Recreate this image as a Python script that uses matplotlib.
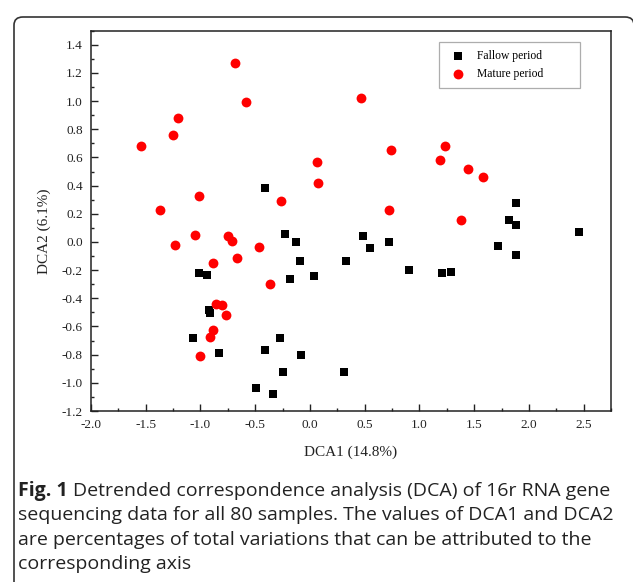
import numpy as np
import matplotlib
matplotlib.use('Agg')
import matplotlib.pyplot as plt
from matplotlib.patches import FancyBboxPatch
from matplotlib.ticker import MultipleLocator

# DCA scores
fallow_x = [-0.408, 1.878, 1.817, 1.884, 2.457, -0.231, -0.125, -0.094, 0.332, -1.011,
            -0.941, -0.180, 0.037, -0.920, -0.913, -1.066, -0.271, -0.834, -0.408, -0.079,
            -0.247, 0.313, -0.493, -0.341, 0.487, 0.548, 0.719, 0.907, 1.208, 1.288,
            1.717, 1.884]
fallow_y = [0.384, 0.279, 0.157, 0.119, 0.074, 0.057, 0.003, -0.137, -0.137, -0.219,
            -0.236, -0.264, -0.245, -0.484, -0.505, -0.680, -0.680, -0.789, -0.765, -0.803,
            -0.926, -0.924, -1.037, -1.077, 0.045, -0.045, 0.003, -0.198, -0.219, -0.215,
            -0.028, -0.094]

mature_x = [-0.682, -0.584, -1.203, -1.254, -1.541, 0.067, 0.076, -1.017, -0.265, -1.370,
            0.469, 0.737, 1.230, 1.184, 1.446, 1.577, 0.719, 1.376, -1.050, -1.230,
            -0.752, -0.709, -0.463, -0.670, -0.886, -0.368, -0.861, -0.804, -0.764, -0.889,
            -0.910, -1.005]
mature_y = [1.270, 0.991, 0.880, 0.760, 0.679, 0.565, 0.419, 0.324, 0.294, 0.225,
            1.022, 0.655, 0.679, 0.582, 0.518, 0.459, 0.225, 0.157, 0.052, -0.021,
            0.040, 0.008, -0.033, -0.116, -0.151, -0.297, -0.437, -0.446, -0.520, -0.624,
            -0.676, -0.806]

x_ticks = [-2.0, -1.5, -1.0, -0.5, 0.0, 0.5, 1.0, 1.5, 2.0, 2.5]
y_ticks = [-1.2, -1.0, -0.8, -0.6, -0.4, -0.2, 0.0, 0.2, 0.4, 0.6, 0.8, 1.0, 1.2, 1.4]

caption = ['Detrended correspondence analysis (DCA) of 16r RNA gene',
           'sequencing data for all 80 samples. The values of DCA1 and DCA2',
           'are percentages of total variations that can be attributed to the',
           'corresponding axis']

plt.rcParams['font.family'] = 'Liberation Serif'

W, H = 633, 582
fig = plt.figure(figsize=(W / 100, H / 100), dpi=100)

def fx(px):
    return px / W

def fy(py):
    return 1 - py / H

# rounded frame around the whole figure
box = FancyBboxPatch((fx(14), fy(590)), fx(620), (590 - 17) / H,
                     boxstyle='round,pad=0,rounding_size=0.014',
                     transform=fig.transFigure, fill=False,
                     edgecolor='#333333', linewidth=1.2, clip_on=False)
fig.patches.append(box)

ax = fig.add_axes([fx(91), fy(411), (611 - 91) / W, (411 - 30.7) / H])

ax.scatter(fallow_x, fallow_y, marker='s', s=34, color='black', linewidths=0,
           label='Fallow period', zorder=3)
ax.scatter(mature_x, mature_y, marker='o', s=50, color='#ff0000', linewidths=0,
           label='Mature period', zorder=3)

ax.set_xlim(-2.0, 2.75)
ax.set_ylim(-1.2, 1.5)
ax.set_xticks(x_ticks)
ax.set_yticks(y_ticks)
ax.set_xticklabels([('%.1f' % v).replace('-0.0', '0.0') for v in x_ticks])
ax.set_yticklabels([('%.1f' % v).replace('-0.0', '0.0') for v in y_ticks])
ax.xaxis.set_minor_locator(MultipleLocator(0.25))
ax.yaxis.set_minor_locator(MultipleLocator(0.1))
ax.tick_params(which='both', direction='in', top=False, right=False, width=1.0,
               colors='#222222')
ax.tick_params(which='major', length=5, pad=6, labelsize=9.5)
ax.tick_params(which='minor', length=2.5)
for sp in ax.spines.values():
    sp.set_linewidth(1.1)
    sp.set_color('#222222')

fig.text(fx(351), fy(452), 'DCA1 (14.8%)', fontsize=11,
         ha='center', va='center', color='#222222')
fig.text(fx(44), fy(231), 'DCA2 (6.1%)', fontsize=11,
         ha='center', va='center', rotation=90, color='#222222')

lx0 = (439 - 91) / 520
ly1 = (411 - 42) / 380.3
leg = ax.legend(loc='upper left', bbox_to_anchor=(lx0, ly1 - 0.2, (580 - 439) / 520, 0.2),
                mode='expand', prop={'size': 8.4}, fancybox=False, frameon=True,
                edgecolor='#999999', borderpad=0.65, handletextpad=0.6,
                labelspacing=0.55, borderaxespad=0)
leg.get_frame().set_linewidth(0.9)

# caption
cap_size = 14.0
cap_color = '#222222'
t = fig.text(fx(18), fy(491), 'Fig. 1', family='Open Sans', fontweight='bold',
             fontsize=cap_size, ha='left', va='center', color=cap_color)
fig.canvas.draw()
bb = t.get_window_extent()
fig.text((bb.x1 + 5) / W, fy(491), caption[0], family='Open Sans', fontsize=cap_size,
         ha='left', va='center', color=cap_color)
for i, line in enumerate(caption[1:]):
    fig.text(fx(18), fy(515.5 + 24.3 * i), line, family='Open Sans', fontsize=cap_size,
             ha='left', va='center', color=cap_color)

fig.savefig('out.png', dpi=100)
